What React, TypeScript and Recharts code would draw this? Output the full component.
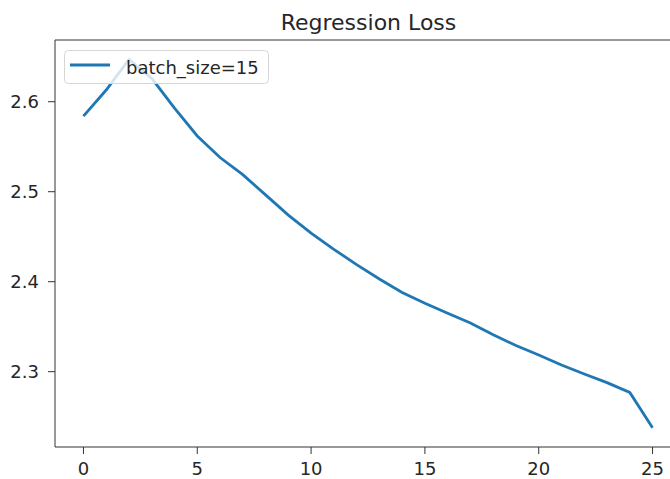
import { LineChart, Line, XAxis, YAxis, Legend, ReferenceLine } from 'recharts'

// training curve, one value per epoch
const epochs = [0, 1, 2, 3, 4, 5, 6, 7, 8, 9, 10, 11, 12, 13, 14, 15, 16, 17, 18, 19, 20, 21, 22, 23, 24, 25]
const loss = [
  2.584, 2.613, 2.647, 2.626, 2.593, 2.562, 2.538, 2.519, 2.4965, 2.474, 2.454, 2.436, 2.419,
  2.403, 2.388, 2.376, 2.365, 2.354, 2.341, 2.329, 2.3186, 2.3074, 2.2974, 2.2878, 2.277, 2.2378,
]
const xTicks = [0, 5, 10, 15, 20, 25]
const yTicks = [2.3, 2.4, 2.5, 2.6]
const seriesName = 'batch_size=15'

const X_DOMAIN: [number, number] = [-1.25, 26.25]
const Y_DOMAIN: [number, number] = [2.2163, 2.6686]

const data = epochs.map((epoch, i) => ({ epoch, loss: loss[i] }))

const FONT = '"DejaVu Sans", sans-serif'
const INK = '#262626'
const SPINE = '#333'
const BLUE = '#1f77b4'

const tickStyle = { fill: INK, fontSize: 18, fontFamily: FONT }

const LegendBox = () => (
  <svg width={206} height={35} style={{ display: 'block' }}>
    <rect x={0.5} y={0.5} width={204} height={33} rx={4} fill="rgba(255,255,255,0.8)" stroke="#d6d6d6" />
    <line x1={6} x2={46} y1={15} y2={15} stroke={BLUE} strokeWidth={2.8} />
    <text x={62} y={24} fontSize={18} fontFamily={FONT} fill={INK}>
      {seriesName}
    </text>
  </svg>
)

export default function App() {
  return (
    <div style={{ position: 'absolute', left: 0, top: 0, width: 670, height: 479, overflow: 'hidden', background: '#fff' }}>
      <LineChart width={700} height={479} data={data} margin={{ top: 40, right: 19, bottom: 0, left: 0 }}>
        <XAxis
          dataKey="epoch"
          type="number"
          domain={X_DOMAIN}
          ticks={xTicks}
          height={32}
          tickSize={7}
          tickMargin={8}
          stroke={SPINE}
          tick={tickStyle}
          allowDataOverflow
        />
        <YAxis
          type="number"
          domain={Y_DOMAIN}
          ticks={yTicks}
          width={55}
          tickSize={7}
          tickMargin={9}
          stroke={SPINE}
          tick={tickStyle}
          tickFormatter={(v: number) => v.toFixed(1)}
          allowDataOverflow
        />
        {/* top spine */}
        <ReferenceLine y={Y_DOMAIN[1]} stroke={SPINE} />
        <Line
          dataKey="loss"
          name={seriesName}
          stroke={BLUE}
          strokeWidth={2.8}
          dot={false}
          activeDot={false}
          isAnimationActive={false}
        />
        {/* centred/middle alignment keeps the legend from taking plot space */}
        <Legend
          layout="horizontal"
          verticalAlign="middle"
          align="center"
          wrapperStyle={{ left: 64, top: 50, width: 206 }}
          content={() => <LegendBox />}
        />
      </LineChart>
      <svg width={670} height={479} style={{ position: 'absolute', left: 0, top: 0, pointerEvents: 'none' }}>
        <text x={368.5} y={30} textAnchor="middle" fontSize={22} fontFamily={FONT} fill={INK}>
          Regression Loss
        </text>
      </svg>
    </div>
  )
}
